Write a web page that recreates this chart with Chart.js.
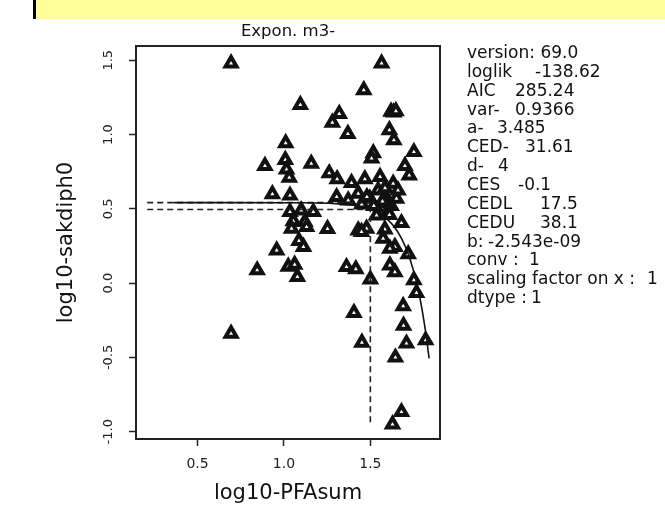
<!DOCTYPE html>
<html>
<head>
<meta charset="utf-8">
<script src="https://cdn.jsdelivr.net/npm/chart.js@4.4.1/dist/chart.umd.min.js"></script>
<style>
  html, body { margin: 0; padding: 0; background: #ffffff; }
  #c { display: block; }
</style>
</head>
<body>
<canvas id="c" width="665" height="517"></canvas>
<script>
// ---------- data ----------
const chartTitle = "Expon. m3-";
const xAxisTitle = "log10-PFAsum";
const yAxisTitle = "log10-sakdiph0";

const xTickValues = [0.5, 1.0, 1.5];
const yTickValues = [-1.0, -0.5, 0.0, 0.5, 1.0, 1.5];

const obsX = [0.694, 1.565, 1.462, 1.095, 1.32, 1.28, 1.37, 1.62, 1.635, 1.648,
  1.61, 1.636, 1.01, 1.517, 1.507, 1.752, 0.89, 1.008, 1.015, 1.031,
  1.158, 1.262, 1.308, 1.70, 1.725, 1.391, 1.468, 1.556, 1.632, 0.933,
  1.035, 1.305, 1.372, 1.43, 1.497, 1.545, 1.594, 1.651, 1.58, 1.60,
  1.62, 1.61, 1.595, 1.57, 1.536, 1.035, 1.10, 1.17, 1.054, 1.121,
  1.044, 1.252, 1.43, 1.478, 1.584, 1.68, 1.087, 1.131, 1.449, 1.574,
  1.113, 0.958, 1.642, 1.613, 1.719, 1.613, 1.642, 1.362, 1.416, 1.025,
  1.062, 1.078, 0.845, 1.50, 1.752, 1.767, 1.69, 1.405, 1.692, 1.451,
  1.709, 1.82, 1.645, 0.694, 1.68, 1.628, 1.45, 1.52, 1.48, 1.585, 1.66];
const obsY = [1.48, 1.48, 1.30, 1.20, 1.14, 1.08, 1.005, 1.155, 1.15, 1.158,
  1.03, 0.962, 0.943, 0.875, 0.84, 0.883, 0.79, 0.83, 0.765, 0.71,
  0.805, 0.74, 0.70, 0.79, 0.726, 0.675, 0.70, 0.715, 0.67, 0.60,
  0.59, 0.58, 0.558, 0.603, 0.569, 0.625, 0.569, 0.569, 0.51, 0.48,
  0.52, 0.46, 0.54, 0.55, 0.457, 0.479, 0.49, 0.479, 0.418, 0.412,
  0.367, 0.365, 0.356, 0.367, 0.362, 0.405, 0.285, 0.378, 0.345, 0.30,
  0.244, 0.221, 0.244, 0.233, 0.195, 0.12, 0.075, 0.109, 0.095, 0.112,
  0.125, 0.042, 0.087, 0.025, 0.02, -0.065, -0.155, -0.20, -0.285, -0.40,
  -0.406, -0.384, -0.50, -0.34, -0.867, -0.95, 0.53, 0.52, 0.58, 0.64, 0.625];

// fitted curve
const fitX = [0.36, 1.0, 1.2, 1.3, 1.4, 1.45, 1.5, 1.55, 1.6, 1.64, 1.68, 1.72, 1.76, 1.78, 1.80, 1.82, 1.84];
const fitY = [0.542, 0.5415, 0.539, 0.535, 0.524, 0.513, 0.496, 0.470, 0.427, 0.376, 0.302, 0.195, 0.040, -0.061, -0.183, -0.330, -0.506];

// dashed reference lines (CED marker)
const refStartX = 0.209;
const cedX = 1.5;
const levelTop = 0.542;
const levelCed = 0.496;
const refBottomY = -0.951;

const infoLabels = ["version: 69.0", "loglik", "AIC", "var-", "a-", "CED-", "d-", "CES", "CEDL", "CEDU", "b:", "conv :", "scaling factor on x :", "dtype :"];
const infoValues = ["", "-138.62", "285.24", "0.9366", "3.485", "31.61", "4", "-0.1", "17.5", "38.1", "-2.543e-09", "1", "1", "1"];
const infoValueX = [0, 535, 515, 515, 497, 525, 498, 518, 540, 540, 488, 529, 647, 531];

// ---------- chart ----------
const FONT = "'DejaVu Sans', sans-serif";
const toPts = (xs, ys) => xs.map((x, i) => ({ x: x, y: ys[i] }));

const decor = {
  id: 'decor',
  beforeDraw(chart) {
    const ctx = chart.ctx;
    ctx.save();
    ctx.fillStyle = '#ffffff';
    ctx.fillRect(0, 0, chart.width, chart.height);
    ctx.fillStyle = '#ffff99';
    ctx.fillRect(36, 0, chart.width - 36, 19);
    ctx.fillStyle = '#000000';
    ctx.fillRect(33, 0, 3, 19);
    ctx.restore();
  },
  afterDraw(chart) {
    const ctx = chart.ctx;
    const a = chart.chartArea;
    ctx.save();
    ctx.strokeStyle = '#222';
    ctx.lineWidth = 2;
    ctx.beginPath();
    ctx.moveTo(a.left, a.top);
    ctx.lineTo(a.right, a.top);
    ctx.lineTo(a.right, a.bottom);
    ctx.stroke();
    ctx.fillStyle = '#111';
    ctx.font = "16.5px " + FONT;
    ctx.textAlign = 'center';
    ctx.textBaseline = 'middle';
    ctx.fillText(chartTitle, (a.left + a.right) / 2, 32);
    ctx.font = "17px " + FONT;
    ctx.textAlign = 'left';
    ctx.textBaseline = 'alphabetic';
    for (let i = 0; i < infoLabels.length; i++) {
      const y = 58 + i * 18.85;
      ctx.fillText(infoLabels[i], 467, y);
      if (infoValues[i]) ctx.fillText(infoValues[i], infoValueX[i], y);
    }
    ctx.restore();
  }
};

new Chart(document.getElementById('c'), {
  data: {
    datasets: [
      {
        type: 'line', label: 'fit', data: toPts(fitX, fitY),
        borderColor: '#111', borderWidth: 1.6, pointRadius: 0, fill: false,
        tension: 0.3, order: 0
      },
      {
        type: 'line', label: 'level', data: toPts([refStartX, cedX], [levelTop, levelTop]),
        borderColor: '#222', borderWidth: 1.6, borderDash: [6, 4], pointRadius: 0, fill: false, order: 0
      },
      {
        type: 'line', label: 'ced', data: toPts([refStartX, cedX, cedX], [levelCed, levelCed, refBottomY]),
        borderColor: '#222', borderWidth: 1.6, borderDash: [6, 4], pointRadius: 0, fill: false, order: 0
      },
      {
        type: 'scatter', label: 'obs', data: toPts(obsX, obsY),
        pointStyle: 'triangle', pointRadius: 6.3, borderWidth: 4,
        borderColor: '#111', backgroundColor: '#ffffff', order: 1
      }
    ]
  },
  options: {
    responsive: false,
    animation: false,
    devicePixelRatio: 1,
    events: [],
    layout: { padding: { left: 0, right: 225, top: 46, bottom: 0 } },
    plugins: { legend: { display: false }, tooltip: { enabled: false }, title: { display: false } },
    scales: {
      x: {
        type: 'linear', min: 0.144, max: 1.903,
        afterBuildTicks: s => { s.ticks = xTickValues.map(v => ({ value: v })); },
        afterFit: s => { s.height = 78; },
        grid: { display: true, drawOnChartArea: false, drawTicks: true, tickLength: 7, color: '#222', tickWidth: 1.5 },
        border: { display: true, color: '#222', width: 2 },
        ticks: {
          autoSkip: false, maxRotation: 0, padding: 10, color: '#222',
          font: { family: FONT, size: 14 },
          callback: v => Number(v).toFixed(1)
        },
        title: { display: true, text: xAxisTitle, color: '#111', font: { family: FONT, size: 21 }, padding: { top: 0, bottom: 11 } }
      },
      y: {
        type: 'linear', min: -1.049, max: 1.596,
        afterBuildTicks: s => { s.ticks = yTickValues.map(v => ({ value: v })); },
        afterFit: s => { s.width = 136; },
        grid: { display: true, drawOnChartArea: false, drawTicks: true, tickLength: 7, color: '#222', tickWidth: 1.5 },
        border: { display: true, color: '#222', width: 2 },
        ticks: {
          autoSkip: false, minRotation: 90, maxRotation: 90, crossAlign: 'center', padding: 8, color: '#222',
          font: { family: FONT, size: 13 },
          callback: v => Number(v).toFixed(1)
        },
        title: { display: true, text: yAxisTitle, color: '#111', font: { family: FONT, size: 21 }, padding: { top: 54, bottom: 0 } }
      }
    }
  },
  plugins: [decor]
});
</script>
</body>
</html>
